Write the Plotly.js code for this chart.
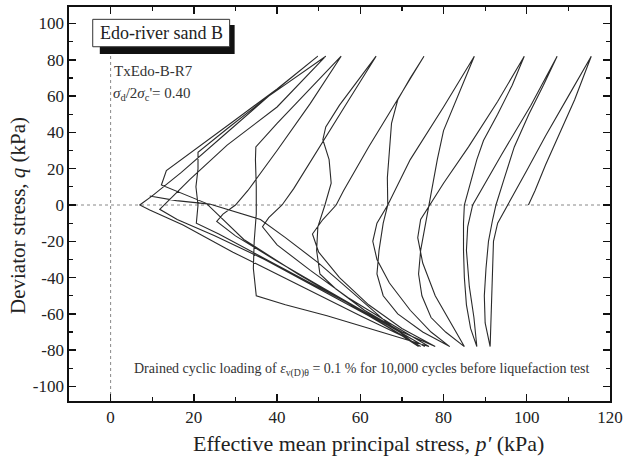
<!DOCTYPE html>
<html>
<head>
<meta charset="utf-8">
<script src="https://cdn.plot.ly/plotly-3.0.1.min.js"></script>
<style>html,body{margin:0;padding:0;background:#fff;}#chart{width:630px;height:461px;}</style>
</head>
<body>
<div id="chart"></div>
<script>
// Effective stress path, p' (kPa) and q (kPa), in test order
const pPath = [
  100.4,102,104.5,107,109,111.5,113.5,115.5,
  110,104.5,100,95.4,93,92,91.7,91.4,91.2,
  90,89.8,90.2,90.8,91.8,92.6,94.5,97,100.5,104,107.3,
  101,94,87,85.8,85.5,86.2,87.3,88,
  86.5,85.5,85,84.8,84.8,85,86.5,88,89.6,93,96.5,99.4,
  93,86,80,76.6,74.5,73.8,75,78,82,85,
  80.5,77,74.8,74,74.5,75.5,76.6,77.5,78.5,80,83.5,87.4,
  80,72,66.6,64,63,64,67,72,77,81.5,
  75,69,65.5,64,64.5,65.5,66.6,66.5,67,67.5,69,72,75.3,
  69,62,56,54.2,51,48.5,50,55,62,70,78,
  70,61,54,50.3,49.5,49.8,51.5,53,52.5,51,51.7,55,59,63.8,
  57,50,44,41.2,38,36.5,40,48,57,67,76.5,
  65,52,42,35,34.3,34.5,35,35,34.8,34.9,40,47,55.4,
  48,40,33,30,27,25.5,30,40,52,64,75.5,
  62,48,35,26,20.6,21,20.5,21,21,28,38,51.7,
  40,28,19,14,11.8,16,25,37,50,62,74.5,
  60,45,32,23,17.5,12.2,13.4,20,30,40,49.8,
  38,27,17,10,7,9.4,17.4,29.4,45,60,70,74,
  66,58,50,42,36,23.8,15.8,9.4
];
const qPath = [
  0,8,22,35,45,58,70,82,
  60,38,19,0,-10,-20,-40,-60,-78,
  -65,-50,-35,-20,-8,0,14,32,50,66,82,
  55,28,0,-12,-25,-45,-62,-78,
  -68,-55,-40,-25,-10,0,13,25,35.5,50,66,82,
  57,32,12,0,-8,-18,-32,-50,-66,-78,
  -70,-62,-50,-38,-25,-12,0,12,25,41,60,82,
  54,25,0,-10,-20,-30,-43,-58,-70,-78,
  -70,-60,-50,-38,-25,-10,0,15,30,45,58,70,82,
  58,32,8,0,-8,-16,-26,-40,-55,-68,-78,
  -70,-58,-46,-38,-25,-12,0,12,25,36,43,55,67,82,
  57,31,9,0,-7,-12,-22,-36,-51,-65,-78,
  -70,-61,-55,-50,-35,-20,-5,10,25,32,45,62,82,
  56,30,8,0,-5,-9,-17,-31,-47,-63,-78,
  -60,-43,-27,-16,-10,0,10,20,29,42,60,82,
  54,33,14,3,-2.4,-8,-17,-30,-46,-61,-78,
  -58,-38,-19,0.9,6,11,19,30,47,64,82,
  60,38,18,5,0,-2.8,-11,-26,-44,-61,-72,-78,
  -64,-48,-32,-18,-8,0.5,2.4,5
];
const xTicks = [0, 20, 40, 60, 80, 100, 120];
const yTicks = [-100, -80, -60, -40, -20, 0, 20, 40, 60, 80, 100];

const serif = 'Liberation Serif, Times New Roman, serif';
const trace = {
  x: pPath, y: qPath, type: 'scatter', mode: 'lines',
  line: {color: '#2a2a2a', width: 1.1}, hoverinfo: 'skip', showlegend: false
};
const axisCommon = {
  showgrid: false, zeroline: false, showline: true, linecolor: '#111', linewidth: 1.6,
  mirror: 'ticks', ticks: 'inside', ticklen: 7, tickwidth: 1.4, tickcolor: '#111',
  tickfont: {family: serif, size: 17, color: '#222'},
  minor: {ticks: 'inside', ticklen: 4, tickwidth: 1.2, tickcolor: '#111'}
};
const layout = {
  width: 630, height: 461,
  margin: {l: 69, r: 20, t: 7, b: 60},
  paper_bgcolor: '#fff', plot_bgcolor: '#fff',
  font: {family: serif, color: '#222'},
  xaxis: Object.assign({}, axisCommon, {
    range: [-10, 120], tickvals: xTicks, ticktext: xTicks.map(String),
    minor: Object.assign({}, axisCommon.minor, {dtick: 10, tick0: 0})
  }),
  yaxis: Object.assign({}, axisCommon, {
    range: [-108, 109.1], tickvals: yTicks, ticktext: yTicks.map(String),
    minor: Object.assign({}, axisCommon.minor, {dtick: 10, tick0: 0})
  }),
  shapes: [
    {type: 'line', xref: 'x', yref: 'y', x0: 0, x1: 0, y0: -108, y1: 83, line: {color: '#888', width: 1, dash: 'dot'}, layer: 'below'},
    {type: 'line', xref: 'paper', yref: 'y', x0: 0, x1: 1, y0: 0, y1: 0, line: {color: '#888', width: 1, dash: 'dot'}, layer: 'below'},
    {type: 'rect', xref: 'x', yref: 'y', x0: -2.6, x1: 29.8, y0: 83.2, y1: 99.2, fillcolor: '#111', line: {width: 0}},
    {type: 'rect', xref: 'x', yref: 'y', x0: -4.3, x1: 28.6, y0: 87.2, y1: 102.3, fillcolor: '#fff', line: {color: '#333', width: 1}}
  ],
  annotations: [
    {xref: 'paper', yref: 'paper', x: 0.5545, y: -0.1066, yanchor: 'middle', text: "Effective mean principal stress, <i>p'</i> (kPa)", showarrow: false, font: {family: serif, size: 22, color: '#222'}},
    {xref: 'paper', yref: 'paper', x: -0.0943, y: 0.472, xanchor: 'center', yanchor: 'middle', textangle: -90, text: 'Deviator stress, <i>q</i> (kPa)', showarrow: false, font: {family: serif, size: 21, color: '#222'}},
    {xref: 'x', yref: 'y', x: 12.15, y: 94.7, text: 'Edo-river sand B', showarrow: false, font: {family: serif, size: 18, color: '#222'}},
    {xref: 'x', yref: 'y', x: 0.3, y: 74, xanchor: 'left', text: 'TxEdo-B-R7', showarrow: false, font: {family: serif, size: 15, color: '#333'}},
    {xref: 'x', yref: 'y', x: 0.0, y: 61, xanchor: 'left', text: "<i>σ</i><sub>d</sub>/2<i>σ</i><sub>c</sub>'= 0.40", showarrow: false, font: {family: serif, size: 15, color: '#333'}},
    {xref: 'x', yref: 'y', x: 115.5, y: -91, xanchor: 'right', text: 'Drained cyclic loading of <i>ε</i><sub>v(D)θ</sub> = 0.1 % for 10,000 cycles before liquefaction test', showarrow: false, font: {family: serif, size: 14, color: '#333'}}
  ]
};
Plotly.newPlot('chart', [trace], layout, {displayModeBar: false, staticPlot: true});
</script>
</body>
</html>
